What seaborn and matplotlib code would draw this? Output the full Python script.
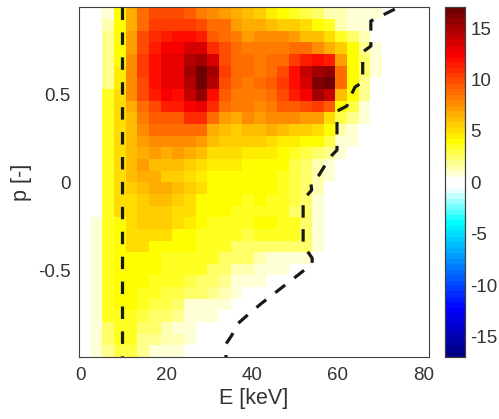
import numpy as np
import pandas as pd
import matplotlib
matplotlib.use("Agg")
import matplotlib.pyplot as plt
from matplotlib.colors import LinearSegmentedColormap, ListedColormap
import seaborn as sns

# Histogram values, one list per p row (top to bottom), E columns from the left; right side is zero
row_00 = [0,0,1,4,6.5,8.5,10,10,10,9.5,8,7.5,7,6.5,6,5.8,4.5,4,3.5,3,2.3,1.5,1.2,.8,.8,.8]
row_01 = [0,0,1.2,4,6.5,9,10.5,10.5,10.5,10.5,10,9,8.5,7,6.5,6.5,6,5.8,5.8,4.8,4,3.5,1.5,.8,.8]
row_02 = [0,0,1.8,4,7,10,11,11.5,12,12,11.5,9.5,8.5,8,7,7.5,7.5,7.5,7,6,6,5,3.5,2.5,1.5]
row_03 = [0,0,1.8,4,7,10,11.5,12.5,12.5,13.5,13.5,11,10,8.5,8,8,8,8,8.5,8.5,7.5,6.5,5.5,4,1.8,.8]
row_04 = [0,0,1.8,4,7.5,10.5,12,13,13,14.5,15,13.5,10,9,8.5,8,9,9,10.5,11.5,12,11.5,7,4,2.5,.8]
row_05 = [0,0,1.8,4.5,7.5,10.5,12,13,13,15,17,15,10.5,9,8.5,8,9,10,12,14,15,15.5,9,4,2.5,.8]
row_06 = [0,0,1.8,4.5,7.5,10,12,13,13,14.5,16.5,14.5,10,9,8,8.5,9.5,10.5,12,13.5,16,16.5,8.5,4,2]
row_07 = [0,0,3.2,5,7.5,10,11.5,12.5,12,14,15.5,12,9.5,8,8,8,9,10,11.5,12.5,15,14,6,4,2]
row_08 = [0,0,3.2,5,6.5,9,10,11.5,11.5,12.5,13,11,8.5,8,8,7.5,8,9.5,9.5,10,10.5,9.5,4,2.8,1]
row_09 = [0,0,3.2,5,6,8,9.5,9.5,9.5,11,11,8.5,7,6.5,7.5,7,7.5,7.5,7.5,7,7,5,3,1.8,1]
row_10 = [0,0,3.2,5,6,7.5,8.5,8.5,9,9,8.5,6.5,6,5.5,6,6,6.5,6,5.5,5.5,5,3.8,1.5,1]
row_11 = [0,0,3.2,5,6,7,7.5,7.5,7.5,7.5,7,6,5.5,5.5,5.5,5.5,5,4.5,4.5,4,3.8,3,1,1]
row_12 = [0,0,3.2,5,6,6.5,7,6.5,7,6.5,6,5,5,5,4.5,4.5,4.5,3.8,3.5,3,2.5,2,1]
row_13 = [0,0,3.2,5,6,7,6,6,6,5.5,5,4.5,4.5,4.5,4,4,4,3.8,3,2.2,1.2,1]
row_14 = [0,0,3.2,5,6,6.5,6.5,5.5,5.5,5,4.5,4.2,4,4,4,3.8,3.8,3.5,3,2.2,1.2,.8]
row_15 = [0,0,3.2,5,5.5,6,6.5,6.5,6,5.5,5,4.2,4,3.8,4,4,3.8,3.4,3,2.2,1.2]
row_16 = [0,0,3.2,5,5,5.8,6,6,5.5,5,4.2,4,3.8,3.8,3.6,3.8,3.7,3.3,2.8,2.2,1]
row_17 = [0,0,3.2,5,5,5.8,5.8,5.8,5.2,4.8,4.2,4,3.8,3.6,3.5,3.7,3.7,3.5,2.5,2.2,1]
row_18 = [0,1,3.2,4.2,5.3,5.5,5.5,5.5,4.8,4.5,4.2,3.7,3.7,3.5,3.5,3.8,3.8,3.7,3.6,2.2,1]
row_19 = [0,1,3.2,4,5,5,5,5,4,3.9,3.7,3.4,3.6,3.2,3,3.6,3.6,3.6,3.6,2.2,1]
row_20 = [0,1,3.2,4,4.8,4.8,4.2,4,4,3.9,3.7,3.5,3.3,2.6,2.4,2.4,2.2,2.2,2.2,2.2,1]
row_21 = [0,1,3.2,4,4,4,4,3.7,3.7,3.4,3.3,3.3,2.5,2.2,2.2,1.2,1,1,1,1]
row_22 = [0,1,3.2,4,4,4,3.8,3.5,3.4,3.2,3.2,2.4,2.2,1.2,1.2,1,1,1]
row_23 = [0,1,3.2,4,4,3.8,3.7,3.4,3.2,3,2.4,2.2,2,1,1,.8]
row_24 = [0,1,3.2,4,3.8,3.5,3.2,3,2.7,2.2,2.2,1.6,1.2,1]
row_25 = [0,1,3.2,3.9,3.8,3.3,2.9,2.7,2.2,1,1,1,1]
row_26 = [0,1,3.2,3.7,3.6,2.8,2.5,2.2,1.6,1,1,1]
row_27 = [0,1,2.6,3.5,3.4,2.5,2.2,1.3,1,1]
row_28 = [0,1,2.6,3.4,3.2,1.8,1.7,1.4,1.2,1]
row_29 = [0,1,2,3,3,2,1,1,1]
rows = [row_00,row_01,row_02,row_03,row_04,row_05,row_06,row_07,row_08,row_09,
        row_10,row_11,row_12,row_13,row_14,row_15,row_16,row_17,row_18,row_19,
        row_20,row_21,row_22,row_23,row_24,row_25,row_26,row_27,row_28,row_29]

# Dashed curves
left_E = [9.75, 9.75]
left_p = [0.993, -0.993]
right_E = [73.3,67.7,67.7,65.8,65.8,64.0,63.1,62.1,59.8,59.8,58.2,55.6,53.7,53.9,51.9,51.9,54.0,54.0,42.3,40.0,38.4,36.3,35.3,33.9,33.9]
right_p = [.984,.916,.774,.740,.569,.541,.495,.433,.404,.183,.143,.041,-.005,-.044,-.101,-.357,-.431,-.465,-.686,-.732,-.766,-.811,-.868,-.919,-.993]

x_ticks = [0, 20, 40, 60, 80]
y_ticks = [0.5, 0, -0.5]
y_tick_labels = ["0.5", "0", "-0.5"]
cbar_ticks = [15, 10, 5, 0, -5, -10, -15]

E_MIN, E_MAX, P_MAX = -0.4, 81.2, 0.993
N = 30
data = np.array([r + [0] * (N - len(r)) for r in rows], dtype=float)
E_centers = E_MIN + (np.arange(N) + 0.5) * (E_MAX - E_MIN) / N
p_centers = P_MAX - (np.arange(N) + 0.5) * 2 * P_MAX / N
df = pd.DataFrame(data, index=np.round(p_centers, 3), columns=np.round(E_centers, 2))

def e2c(e):
    return (np.asarray(e, dtype=float) - E_MIN) / (E_MAX - E_MIN) * N

def p2r(p):
    return (P_MAX - np.asarray(p, dtype=float)) / (2 * P_MAX) * N

VMAX = 17.0
stops = [(-17, (0, 0, .5)), (-12.5, (0, 0, 1)), (-4, (0, 1, 1)), (-.53, (1, 1, 1)), (.2, (1, 1, 1)),
         (4, (1, 1, 0)), (12.5, (1, 0, 0)), (17, (.43, 0, 0))]
base = LinearSegmentedColormap.from_list("hot_cold", [((v + VMAX) / (2 * VMAX), c) for v, c in stops], N=64)
levels = base(np.arange(64))
levels[31:33] = (1, 1, 1, 1)
cmap = ListedColormap(levels)

sns.set_theme(style="white")
plt.rcParams["font.family"] = ["Liberation Sans", "DejaVu Sans"]
W, H = 499, 419
fig = plt.figure(figsize=(W / 100, H / 100), dpi=100)
ax = fig.add_axes([79 / W, 1 - 357 / H, (428.7 - 79) / W, (357 - 7.5) / H])
cax = fig.add_axes([444.7 / W, 1 - 357 / H, (465 - 444.7) / W, (357 - 7.5) / H])

sns.heatmap(df, ax=ax, cbar_ax=cax, cmap=cmap, vmin=-VMAX, vmax=VMAX, cbar=True,
            xticklabels=False, yticklabels=False)

dark = "#404040"
ax.plot(e2c(left_E), p2r(left_p), color="k", lw=2.3, dashes=(3.9, 3.9), dash_capstyle="butt", zorder=5)
ax.plot(e2c(right_E), p2r(right_p), color="k", lw=2.3, dashes=(3.9, 3.6), dash_capstyle="butt", zorder=5)

ax.set_xticks(e2c(x_ticks))
ax.set_xticklabels([str(t) for t in x_ticks])
ax.set_yticks(p2r(y_ticks))
ax.set_yticklabels(y_tick_labels)
for lab in ax.get_yticklabels():
    lab.set_rotation(0)
ax.tick_params(axis="both", direction="in", length=3.5, width=0.7, color=dark, labelsize=13.5,
               labelcolor="#333333", top=True, right=True, bottom=True, left=True)
ax.tick_params(axis="x", pad=7)
ax.tick_params(axis="y", pad=6)
ax.set_xlabel("E [keV]", fontsize=15.5, color="#333333", labelpad=3)
ax.set_ylabel("p [-]", fontsize=15.5, color="#333333", labelpad=4)
for s in ax.spines.values():
    s.set_visible(True)
    s.set_color(dark)
    s.set_linewidth(0.8)

cax.set_yticks(cbar_ticks)
cax.set_yticklabels([str(t) for t in cbar_ticks])
cax.tick_params(axis="y", direction="in", length=2.5, width=0.7, color=dark, labelsize=13.5,
                labelcolor="#333333", right=True, left=False, pad=4)
for s in cax.spines.values():
    s.set_visible(True)
    s.set_color(dark)
    s.set_linewidth(0.8)

fig.savefig("out.png", dpi=100)
